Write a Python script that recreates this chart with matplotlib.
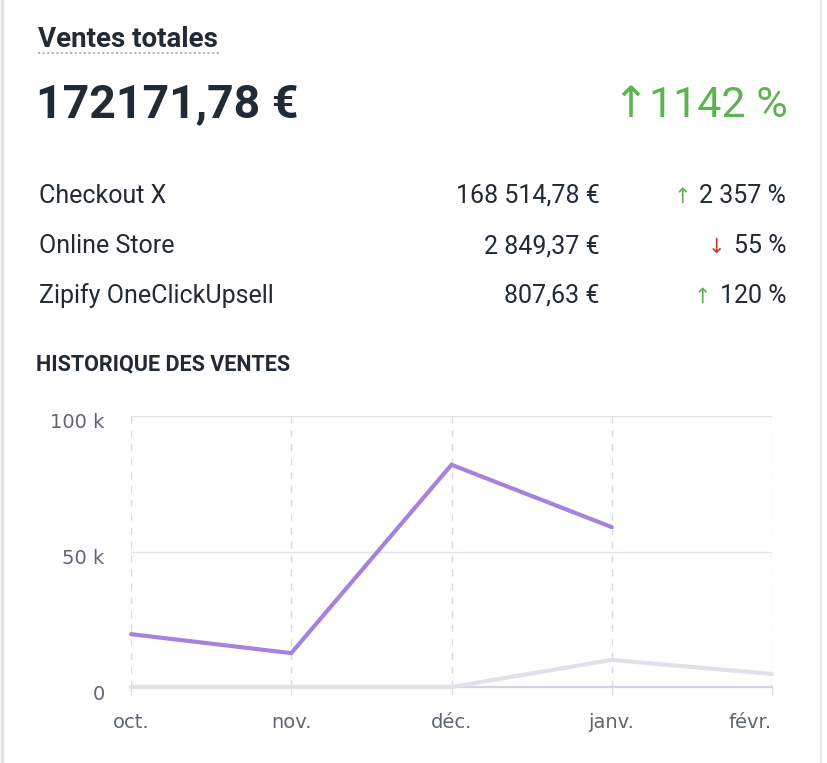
import matplotlib.pyplot as plt
import matplotlib.transforms as mtransforms
from matplotlib.lines import Line2D

# Données
total = "172171,78 €"
total_change = "1142 %"
channels = ["Checkout X", "Online Store", "Zipify OneClickUpsell"]
channel_sales = ["168 514,78 €", "2 849,37 €", "807,63 €"]
channel_change = ["2 357 %", "55 %", "120 %"]
channel_up = [True, False, True]

months = ["oct.", "nov.", "déc.", "janv.", "févr."]
sales_current = [19500, 12500, 82000, 59000]
sales_previous = [0, 0, 0, 10000, 4800]
y_ticks = [0, 50000, 100000]
y_labels = ["0", "50 k", "100 k"]

W, H = 827, 763
dark = '#212b36'
grey_txt = '#5f6673'
green = '#5db350'
red = '#c8402b'
purple = '#a383dd'
light = '#e1e1e9'

fig = plt.figure(figsize=(W / 100, H / 100), dpi=100)
fig.patch.set_facecolor('white')


def px(x, y):
    return x / W, 1 - y / H


txt_font = ['Roboto', 'DejaVu Sans']

# En-tête
fig.text(*px(38, 47), "Ventes totales", fontsize=20, color=dark, weight=600,
         family=txt_font, va='baseline', ha='left')
fig.add_artist(Line2D([38 / W, 220 / W], [1 - 53 / H, 1 - 53 / H],
                      color='#b5b5b5', lw=1.5, linestyle=(0, (1, 1.2))))
fig.text(*px(36, 117), total, fontsize=33.5, color=dark, weight='bold',
         family=txt_font, va='baseline', ha='left')
fig.text(*px(788, 117), "↑" + total_change, fontsize=31, color=green,
         family=txt_font, va='baseline', ha='right')

# Tableau par canal
row_y = [203, 253, 303]
for name, val, chg, up, y in zip(channels, channel_sales, channel_change, channel_up, row_y):
    fig.text(*px(39, y), name, fontsize=18, color=dark, family=txt_font,
             va='baseline', ha='left')
    fig.text(*px(600, y), val, fontsize=18, color=dark, family=txt_font,
             va='baseline', ha='right')
    t = fig.text(*px(786, y), chg, fontsize=18, color=dark, family=txt_font,
                 va='baseline', ha='right')
    fig.canvas.draw()
    bb = t.get_window_extent()
    fig.text(bb.x0 - 8, bb.y0 + 1, "↑" if up else "↓", fontsize=15,
             color=green if up else red, family=['DejaVu Sans'],
             va='bottom', ha='right', transform=None)

fig.text(*px(36, 370), "HISTORIQUE DES VENTES", fontsize=15.5, color=dark,
         weight='bold', family=txt_font, va='baseline', ha='left')

# Graphique
ax = fig.add_axes([131 / W, 1 - 687 / H, (772 - 131) / W, (687 - 416) / H])
x = list(range(len(months)))
ax.plot(x[:len(sales_current)], sales_current, color=purple, lw=3,
        solid_joinstyle='miter', solid_capstyle='round', zorder=5, clip_on=False)
ax.plot(x, sales_previous, color=light, lw=3, zorder=4, clip_on=False,
        solid_capstyle='round')

ax.set_xlim(0, len(months) - 1)
ax.set_ylim(0, 100000)
ax.set_xticks(x, months)
ax.set_yticks(y_ticks, y_labels)

for s in ['top', 'right', 'left']:
    ax.spines[s].set_visible(False)
ax.spines['bottom'].set_color('#d4d4e2')
ax.spines['bottom'].set_linewidth(1.6)

ax.yaxis.grid(True, color='#e3e3ec', lw=1)
ax.xaxis.grid(True, color='#d9d9e6', lw=1, linestyle=(0, (5, 5)))
ax.set_axisbelow(True)

ax.tick_params(axis='x', length=6, color='#d9d9e6', pad=13,
               labelsize=14, labelcolor=grey_txt)
ax.tick_params(axis='y', length=0, pad=19, labelsize=14, labelcolor=grey_txt)
shift = mtransforms.ScaledTranslation(0, -5 / 100, fig.dpi_scale_trans)
for lab in ax.get_yticklabels():
    lab.set_transform(lab.get_transform() + shift)
# dernier mois aligné à droite dans le cadre
ax.get_xticklabels()[-1].set_horizontalalignment('right')

# Bords de la carte
fig.add_artist(Line2D([1.5 / W, 1.5 / W], [0, 1], color='#e2e2e2', lw=2.5))
fig.add_artist(Line2D([821 / W, 821 / W], [0, 1], color='#e8e8e8', lw=1.5))

fig.savefig('out.png', dpi=100, facecolor='white')
